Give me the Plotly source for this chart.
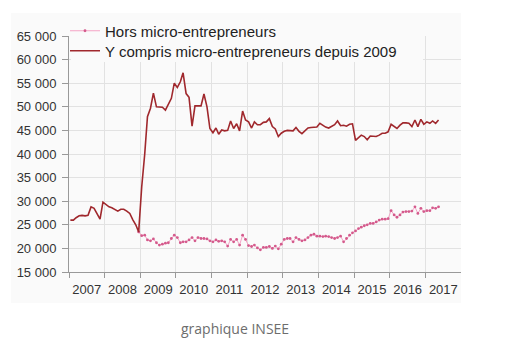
import pandas as pd
import plotly.graph_objects as go

# Monthly dates, Jan 2007 .. May 2017 (points placed mid-month)
months = [d.strftime("%Y-%m-15") for d in pd.date_range("2007-01-01", "2017-05-01", freq="MS")]

series_names = ["Hors micro-entrepreneurs", "Y compris micro-entrepreneurs depuis 2009"]

total_incl_micro = [
    26000, 26000, 26500, 26900, 27000, 26900, 27000, 28800, 28500, 27300, 26200, 29800,
    29300, 28800, 28600, 28300, 27900, 28300, 28300, 27900, 27400, 26100, 25000, 23500,
    33000, 40000, 47900, 49700, 52900, 50000, 50000, 49900, 49300, 50700, 51800, 55000,
    54100, 55300, 57200, 52800, 52000, 45900, 50200, 50200, 50200, 52700, 50000, 45400,
    44500, 45500, 44200, 45100, 44900, 45000, 47000, 45400, 46400, 44900, 49100, 47200,
    46800, 45500, 46800, 46200, 46200, 46700, 46800, 47500, 45800, 45300, 43700, 44400,
    44800, 45000, 44900, 44900, 45600, 44800, 44300, 45000, 45500, 45600, 45600, 45700,
    46500, 46100, 45700, 45500, 45800, 46200, 47000, 46000, 46100, 45900, 46300, 46400,
    42900, 43500, 44000, 43700, 43000, 43800, 43700, 43700, 44000, 44400, 44400, 44700,
    46300, 45800, 45400, 46100, 46600, 46600, 46500, 45800, 47200, 45800, 47350, 46300,
    46800, 46500, 47000, 46500, 47200,
]

excl_micro = [None] * 23 + [
    23500,
    22700, 22800, 21800, 21600, 22000, 21200, 20700, 20900, 21100, 21200, 22100, 22800,
    22300, 21200, 21400, 21400, 21800, 22300, 21600, 22300, 22100, 22100, 22000, 21600,
    21400, 21800, 21500, 21600, 21400, 20500, 21900, 21400, 21900, 20700, 22800, 21900,
    20600, 20400, 20700, 20100, 19700, 20200, 20200, 20400, 20000, 20500, 19900, 20900,
    21900, 22100, 22100, 21400, 22300, 21900, 21600, 21800, 22300, 22800, 23000, 22600,
    22600, 22500, 22600, 22500, 22300, 22100, 22300, 22600, 21400, 22100, 22800, 23300,
    23700, 24200, 24500, 24800, 25000, 25300, 25300, 25600, 26000, 26200, 26200, 26300,
    28000, 27100, 26600, 27100, 27700, 27800, 27800, 27900, 28800, 27400, 28500, 27800,
    28000, 28000, 28600, 28500, 28800,
]

FONT = "Liberation Sans, Arial, sans-serif"
OFF = 8  # page body margin
W, H = 505 - OFF, 355 - OFF
# plot area in page pixels: x 69..461, y 36..272
PL, PR, PT, PB = 69, 461, 36, 272
L, T = PL - OFF, PT - OFF
PW, PH = PR - PL, PB - PT
R, B = W - L - PW, H - T - PH

def px_x(p):  # page px -> paper
    return (p - PL) / PW

def px_y(p):
    return (PB - p) / PH

fig = go.Figure()
fig.add_trace(go.Scatter(
    x=months, y=excl_micro, name=series_names[0], mode="lines+markers",
    line=dict(color="#f5a3c5", width=1),
    marker=dict(color="#d45a8c", size=2.8),
    legend="legend",
))
fig.add_trace(go.Scatter(
    x=months, y=total_incl_micro, name=series_names[1], mode="lines",
    line=dict(color="#a0282d", width=1.6),
    legend="legend2",
))

legend_common = dict(
    xanchor="left", yanchor="middle",
    bgcolor="rgba(0,0,0,0)", borderwidth=0,
    font=dict(family=FONT, size=15, color="#222222"),
    itemwidth=30,
)

fig.update_layout(
    width=W, height=H,
    margin=dict(l=L, r=R, t=T, b=B, pad=0, autoexpand=False),
    paper_bgcolor="white",
    plot_bgcolor="#fafafa",
    separators=", ",
    font=dict(family=FONT, size=13, color="#333333"),
    showlegend=True,
    legend=dict(x=px_x(65), y=px_y(31), **legend_common),
    legend2=dict(x=px_x(65), y=px_y(51), **legend_common),
    shapes=[
        dict(type="rect", xref="paper", yref="paper", layer="below",
             x0=px_x(11), x1=px_x(461), y0=px_y(303), y1=px_y(13),
             fillcolor="#fafafa", line=dict(width=0)),
        dict(type="rect", xref="paper", yref="paper", layer="above",
             x0=px_x(71), x1=px_x(423), y0=px_y(62), y1=px_y(30),
             fillcolor="#fafafa", line=dict(width=0)),
    ],
    annotations=[
        dict(text="graphique INSEE", xref="paper", yref="paper",
             x=px_x(235), y=px_y(328), xanchor="center", yanchor="middle",
             showarrow=False, font=dict(family="Open Sans, sans-serif", size=14, color="#6d6d6d")),
    ],
)

fig.update_xaxes(
    type="date", range=["2007-01-01", "2017-12-31"],
    tick0="2007-01-01", dtick="M12", tickformat="%Y", ticklabelmode="period",
    ticks="outside", ticklen=5, tickcolor="#999999",
    showline=True, linecolor="#999999", linewidth=1,
    showgrid=True, gridcolor="#e2e2e2", gridwidth=1,
    tickfont=dict(family=FONT, size=13, color="#333333"),
    zeroline=False, fixedrange=True,
)
fig.update_yaxes(
    range=[15000, 65000], dtick=5000, tick0=15000, tickformat=",d",
    ticks="outside", ticklen=6, tickcolor="#999999",
    showline=True, linecolor="#999999", linewidth=1,
    showgrid=True, gridcolor="#e2e2e2", gridwidth=1,
    tickfont=dict(family=FONT, size=13, color="#333333"),
    ticklabelstandoff=3,
    zeroline=False, fixedrange=True,
)

fig.write_html("out.html", config=dict(displayModeBar=False))
